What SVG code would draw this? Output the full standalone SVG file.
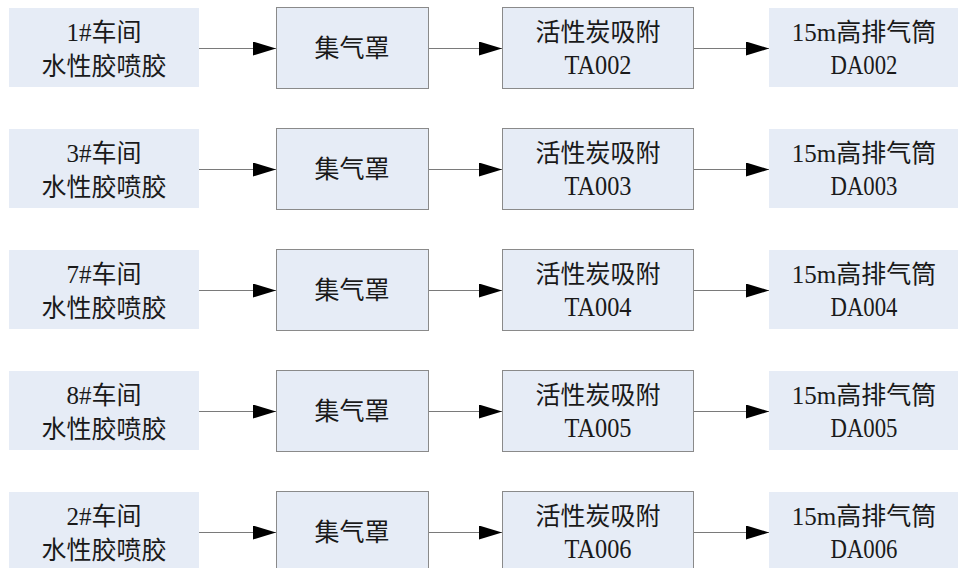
<svg xmlns="http://www.w3.org/2000/svg" width="958" height="568" viewBox="0 0 958 568">
<defs>
<style>
.b{fill:#e6ecf6;}
.bb{fill:#e6ecf6;stroke:#8a8a8a;stroke-width:1;}
.t{font-family:"Liberation Serif","Noto Sans CJK SC",serif;font-size:25px;fill:#1a1a1a;text-anchor:middle;}
.id{font-size:27px;}
.c{stroke:#7a7a7a;stroke-width:1;fill:none;marker-end:url(#ah);}
</style>
<marker id="ah" markerUnits="userSpaceOnUse" markerWidth="23" markerHeight="14" refX="23" refY="7" orient="auto">
<path d="M0,0 L23,7 L0,14 Z" fill="#000"/>
</marker>
</defs>
<rect width="958" height="568" fill="#fff"/>
<g id="nodes">
<g id="r1">
<g id="r1-src"><rect class="b" x="9" y="8" width="190" height="79"/><text class="t" x="104" y="41">1#车间</text><text class="t" x="104" y="75">水性胶喷胶</text></g>
<g id="r1-hood"><rect class="bb" x="276.5" y="7.5" width="152" height="81"/><text class="t" x="352" y="57">集气罩</text></g>
<g id="r1-ads"><rect class="bb" x="502.5" y="7.5" width="191" height="81"/><text class="t" x="598" y="41">活性炭吸附</text><text class="t id" x="598" y="74" textLength="67" lengthAdjust="spacingAndGlyphs">TA002</text></g>
<g id="r1-stack"><rect class="b" x="769" y="8" width="189" height="79"/><text class="t" x="864" y="41">15m高排气筒</text><text class="t id" x="864" y="74" textLength="67" lengthAdjust="spacingAndGlyphs">DA002</text></g>
</g>
<g id="r2">
<g id="r2-src"><rect class="b" x="9" y="129" width="190" height="79"/><text class="t" x="104" y="162">3#车间</text><text class="t" x="104" y="196">水性胶喷胶</text></g>
<g id="r2-hood"><rect class="bb" x="276.5" y="128.5" width="152" height="81"/><text class="t" x="352" y="178">集气罩</text></g>
<g id="r2-ads"><rect class="bb" x="502.5" y="128.5" width="191" height="81"/><text class="t" x="598" y="162">活性炭吸附</text><text class="t id" x="598" y="195" textLength="67" lengthAdjust="spacingAndGlyphs">TA003</text></g>
<g id="r2-stack"><rect class="b" x="769" y="129" width="189" height="79"/><text class="t" x="864" y="162">15m高排气筒</text><text class="t id" x="864" y="195" textLength="67" lengthAdjust="spacingAndGlyphs">DA003</text></g>
</g>
<g id="r3">
<g id="r3-src"><rect class="b" x="9" y="250" width="190" height="79"/><text class="t" x="104" y="283">7#车间</text><text class="t" x="104" y="317">水性胶喷胶</text></g>
<g id="r3-hood"><rect class="bb" x="276.5" y="249.5" width="152" height="81"/><text class="t" x="352" y="299">集气罩</text></g>
<g id="r3-ads"><rect class="bb" x="502.5" y="249.5" width="191" height="81"/><text class="t" x="598" y="283">活性炭吸附</text><text class="t id" x="598" y="316" textLength="67" lengthAdjust="spacingAndGlyphs">TA004</text></g>
<g id="r3-stack"><rect class="b" x="769" y="250" width="189" height="79"/><text class="t" x="864" y="283">15m高排气筒</text><text class="t id" x="864" y="316" textLength="67" lengthAdjust="spacingAndGlyphs">DA004</text></g>
</g>
<g id="r4">
<g id="r4-src"><rect class="b" x="9" y="371" width="190" height="79"/><text class="t" x="104" y="404">8#车间</text><text class="t" x="104" y="438">水性胶喷胶</text></g>
<g id="r4-hood"><rect class="bb" x="276.5" y="370.5" width="152" height="81"/><text class="t" x="352" y="420">集气罩</text></g>
<g id="r4-ads"><rect class="bb" x="502.5" y="370.5" width="191" height="81"/><text class="t" x="598" y="404">活性炭吸附</text><text class="t id" x="598" y="437" textLength="67" lengthAdjust="spacingAndGlyphs">TA005</text></g>
<g id="r4-stack"><rect class="b" x="769" y="371" width="189" height="79"/><text class="t" x="864" y="404">15m高排气筒</text><text class="t id" x="864" y="437" textLength="67" lengthAdjust="spacingAndGlyphs">DA005</text></g>
</g>
<g id="r5">
<g id="r5-src"><rect class="b" x="9" y="492" width="190" height="79"/><text class="t" x="104" y="525">2#车间</text><text class="t" x="104" y="559">水性胶喷胶</text></g>
<g id="r5-hood"><rect class="bb" x="276.5" y="491.5" width="152" height="81"/><text class="t" x="352" y="541">集气罩</text></g>
<g id="r5-ads"><rect class="bb" x="502.5" y="491.5" width="191" height="81"/><text class="t" x="598" y="525">活性炭吸附</text><text class="t id" x="598" y="558" textLength="67" lengthAdjust="spacingAndGlyphs">TA006</text></g>
<g id="r5-stack"><rect class="b" x="769" y="492" width="189" height="79"/><text class="t" x="864" y="525">15m高排气筒</text><text class="t id" x="864" y="558" textLength="67" lengthAdjust="spacingAndGlyphs">DA006</text></g>
</g>
</g>
<g id="connectors">
<path class="c" d="M199,48.5 H276"/><path class="c" d="M429,48.5 H502"/><path class="c" d="M694,48.5 H769"/>
<path class="c" d="M199,169.5 H276"/><path class="c" d="M429,169.5 H502"/><path class="c" d="M694,169.5 H769"/>
<path class="c" d="M199,290.5 H276"/><path class="c" d="M429,290.5 H502"/><path class="c" d="M694,290.5 H769"/>
<path class="c" d="M199,411.5 H276"/><path class="c" d="M429,411.5 H502"/><path class="c" d="M694,411.5 H769"/>
<path class="c" d="M199,532.5 H276"/><path class="c" d="M429,532.5 H502"/><path class="c" d="M694,532.5 H769"/>
</g>
</svg>
